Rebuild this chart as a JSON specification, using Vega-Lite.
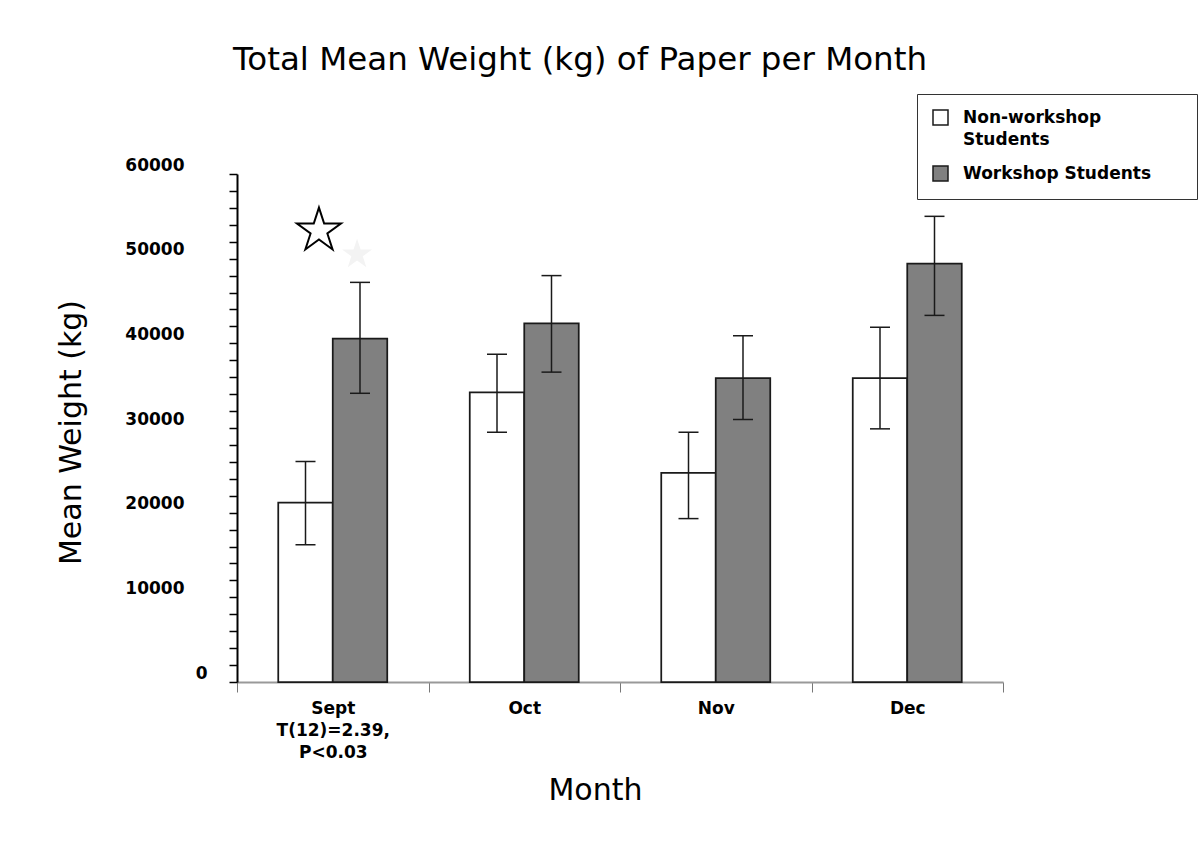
{
  "$schema": "https://vega.github.io/schema/vega-lite/v6.json",
  "autosize": "none",
  "width": 766,
  "height": 508,
  "padding": {"left": 237, "top": 174, "right": 200, "bottom": 166},
  "background": "white",
  "config": {
    "view": {"stroke": null},
    "font": "DejaVu Sans",
    "axisX": {
      "titleFont": "DejaVu Sans",
      "titleFontSize": 30,
      "titleFontWeight": "normal",
      "titleColor": "#000000",
      "titleX": 358,
      "titleY": 117,
      "titleBaseline": "alphabetic",
      "labelAngle": 0,
      "labelFont": "DejaVu Sans",
      "labelFontSize": 17,
      "labelFontWeight": "bold",
      "labelColor": "#000000",
      "labelPadding": 8,
      "labelLineHeight": 22,
      "tickBand": "extent",
      "tickSize": 10,
      "tickColor": "#777777",
      "tickWidth": 1,
      "domainColor": "#999999",
      "domainWidth": 2,
      "grid": false
    },
    "axisY": {
      "titleFont": "DejaVu Sans",
      "titleFontSize": 30,
      "titleFontWeight": "normal",
      "titleColor": "#000000",
      "titleX": -157,
      "titleY": 258,
      "titleAngle": -90,
      "titleBaseline": "alphabetic",
      "labelOverlap": false,
      "labelFont": "DejaVu Sans",
      "labelFontSize": 17,
      "labelFontWeight": "bold",
      "labelColor": "#000000",
      "labelOffset": -9,
      "tickSize": 8,
      "tickWidth": 1.5,
      "tickColor": "#000000",
      "domainColor": "#000000",
      "domainWidth": 2,
      "grid": false
    }
  },
  "title": {
    "text": "Total Mean Weight (kg) of Paper per Month",
    "anchor": "start",
    "frame": "group",
    "font": "DejaVu Sans",
    "fontSize": 32.5,
    "fontWeight": "normal",
    "color": "#000000",
    "baseline": "alphabetic",
    "dx": -4,
    "offset": -9
  },
  "datasets": {
    "bars": [
      {"month": "Sept", "series": "Non-workshop Students", "mean": 21200, "lo": 16200, "hi": 26050},
      {"month": "Sept", "series": "Workshop Students", "mean": 40550, "lo": 34100, "hi": 47200},
      {"month": "Oct", "series": "Non-workshop Students", "mean": 34200, "lo": 29500, "hi": 38700},
      {"month": "Oct", "series": "Workshop Students", "mean": 42350, "lo": 36600, "hi": 48000},
      {"month": "Nov", "series": "Non-workshop Students", "mean": 24700, "lo": 19300, "hi": 29500},
      {"month": "Nov", "series": "Workshop Students", "mean": 35900, "lo": 31000, "hi": 40900},
      {"month": "Dec", "series": "Non-workshop Students", "mean": 35900, "lo": 29900, "hi": 41900},
      {"month": "Dec", "series": "Workshop Students", "mean": 49400, "lo": 43300, "hi": 55000}
    ],
    "stars": [
      {"month": "Sept", "value": 53300, "kind": "outline"},
      {"month": "Sept", "value": 50500, "kind": "faint"}
    ]
  },
  "layer": [
    {
      "data": {"name": "bars"},
      "mark": {"type": "bar", "stroke": "#1a1a1a", "strokeWidth": 1.75},
      "encoding": {
        "x": {
          "field": "month", "type": "nominal",
          "scale": {"domain": ["Sept", "Oct", "Nov", "Dec"], "paddingInner": 0, "paddingOuter": 0},
          "axis": {"title": "Month", "labelExpr": "datum.value === 'Sept' ? ['Sept', 'T(12)=2.39,', 'P<0.03'] : datum.label"}
        },
        "xOffset": {
          "field": "series", "type": "nominal",
          "scale": {"domain": ["Non-workshop Students", "Workshop Students"], "paddingInner": 0, "paddingOuter": 0.757}
        },
        "y": {
          "field": "mean", "type": "quantitative",
          "scale": {"domain": [0, 60000], "nice": false},
          "axis": {
            "title": "Mean Weight (kg)",
            "values": [0, 2000, 4000, 6000, 8000, 10000, 12000, 14000, 16000, 18000, 20000, 22000, 24000, 26000, 28000, 30000, 32000, 34000, 36000, 38000, 40000, 42000, 44000, 46000, 48000, 50000, 52000, 54000, 56000, 58000, 60000],
            "format": "d",
            "labelExpr": "datum.value % 10000 === 0 ? datum.label : ''",
            "labelPadding": {"condition": {"test": "datum.value === 0", "value": 22}, "value": 45}
          }
        },
        "fill": {
          "field": "series", "type": "nominal",
          "scale": {"domain": ["Non-workshop Students", "Workshop Students"], "range": ["#ffffff", "#808080"]},
          "legend": {
            "orient": "none",
            "legendX": 680,
            "legendY": -80,
            "title": "\u00a0",
            "titleOrient": "right",
            "titlePadding": 31,
            "titleFontSize": 17,
            "padding": 15,
            "strokeColor": "#333333",
            "fillColor": "#ffffff",
            "symbolType": "square",
            "symbolSize": 225,
            "symbolStrokeColor": "#1a1a1a",
            "symbolStrokeWidth": 1.5,
            "labelFont": "DejaVu Sans",
            "labelFontSize": 17,
            "labelFontWeight": "bold",
            "labelColor": "#000000",
            "labelLimit": 400,
            "labelOffset": 14,
            "rowPadding": 15,
            "labelExpr": "datum.label === 'Non-workshop Students' ? ['Non-workshop', 'Students'] : datum.label",
            "encode": {"labels": {"update": {"lineHeight": {"value": 22}}}}
          }
        }
      }
    },
    {
      "data": {"name": "bars"},
      "mark": {"type": "rule", "color": "#1a1a1a", "strokeWidth": 1.5},
      "encoding": {
        "x": {
          "field": "month", "type": "nominal",
          "axis": {"title": "Month", "labelExpr": "datum.value === 'Sept' ? ['Sept', 'T(12)=2.39,', 'P<0.03'] : datum.label"}
        },
        "xOffset": {"field": "series", "type": "nominal"},
        "y": {
          "field": "lo", "type": "quantitative",
          "axis": {
            "title": "Mean Weight (kg)",
            "values": [0, 2000, 4000, 6000, 8000, 10000, 12000, 14000, 16000, 18000, 20000, 22000, 24000, 26000, 28000, 30000, 32000, 34000, 36000, 38000, 40000, 42000, 44000, 46000, 48000, 50000, 52000, 54000, 56000, 58000, 60000],
            "format": "d",
            "labelExpr": "datum.value % 10000 === 0 ? datum.label : ''",
            "labelPadding": {"condition": {"test": "datum.value === 0", "value": 22}, "value": 45}
          }
        },
        "y2": {"field": "hi"}
      }
    },
    {
      "data": {"name": "bars"},
      "mark": {"type": "tick", "orient": "horizontal", "color": "#1a1a1a", "size": 20, "thickness": 1.5, "opacity": 1},
      "encoding": {
        "x": {
          "field": "month", "type": "nominal",
          "axis": {"title": "Month", "labelExpr": "datum.value === 'Sept' ? ['Sept', 'T(12)=2.39,', 'P<0.03'] : datum.label"}
        },
        "xOffset": {"field": "series", "type": "nominal"},
        "y": {
          "field": "lo", "type": "quantitative",
          "axis": {
            "title": "Mean Weight (kg)",
            "values": [0, 2000, 4000, 6000, 8000, 10000, 12000, 14000, 16000, 18000, 20000, 22000, 24000, 26000, 28000, 30000, 32000, 34000, 36000, 38000, 40000, 42000, 44000, 46000, 48000, 50000, 52000, 54000, 56000, 58000, 60000],
            "format": "d",
            "labelExpr": "datum.value % 10000 === 0 ? datum.label : ''",
            "labelPadding": {"condition": {"test": "datum.value === 0", "value": 22}, "value": 45}
          }
        }
      }
    },
    {
      "data": {"name": "bars"},
      "mark": {"type": "tick", "orient": "horizontal", "color": "#1a1a1a", "size": 20, "thickness": 1.5, "opacity": 1},
      "encoding": {
        "x": {
          "field": "month", "type": "nominal",
          "axis": {"title": "Month", "labelExpr": "datum.value === 'Sept' ? ['Sept', 'T(12)=2.39,', 'P<0.03'] : datum.label"}
        },
        "xOffset": {"field": "series", "type": "nominal"},
        "y": {
          "field": "hi", "type": "quantitative",
          "axis": {
            "title": "Mean Weight (kg)",
            "values": [0, 2000, 4000, 6000, 8000, 10000, 12000, 14000, 16000, 18000, 20000, 22000, 24000, 26000, 28000, 30000, 32000, 34000, 36000, 38000, 40000, 42000, 44000, 46000, 48000, 50000, 52000, 54000, 56000, 58000, 60000],
            "format": "d",
            "labelExpr": "datum.value % 10000 === 0 ? datum.label : ''",
            "labelPadding": {"condition": {"test": "datum.value === 0", "value": 22}, "value": 45}
          }
        }
      }
    },
    {
      "data": {"name": "stars"},
      "transform": [{"filter": "datum.kind === 'outline'"}],
      "mark": {
        "type": "point",
        "shape": "M0,-1L0.2245,-0.309L0.951,-0.309L0.363,0.118L0.588,0.809L0,0.382L-0.588,0.809L-0.363,0.118L-0.951,-0.309L-0.2245,-0.309Z",
        "size": 2140,
        "filled": true,
        "fill": "#ffffff",
        "stroke": "#000000",
        "strokeWidth": 2,
        "opacity": 1
      },
      "encoding": {
        "x": {
          "field": "month", "type": "nominal", "bandPosition": 0.428,
          "axis": {"title": "Month", "labelExpr": "datum.value === 'Sept' ? ['Sept', 'T(12)=2.39,', 'P<0.03'] : datum.label"}
        },
        "y": {
          "field": "value", "type": "quantitative",
          "axis": {
            "title": "Mean Weight (kg)",
            "values": [0, 2000, 4000, 6000, 8000, 10000, 12000, 14000, 16000, 18000, 20000, 22000, 24000, 26000, 28000, 30000, 32000, 34000, 36000, 38000, 40000, 42000, 44000, 46000, 48000, 50000, 52000, 54000, 56000, 58000, 60000],
            "format": "d",
            "labelExpr": "datum.value % 10000 === 0 ? datum.label : ''",
            "labelPadding": {"condition": {"test": "datum.value === 0", "value": 22}, "value": 45}
          }
        }
      }
    },
    {
      "data": {"name": "stars"},
      "transform": [{"filter": "datum.kind === 'faint'"}],
      "mark": {
        "type": "point",
        "shape": "M0,-1L0.2245,-0.309L0.951,-0.309L0.363,0.118L0.588,0.809L0,0.382L-0.588,0.809L-0.363,0.118L-0.951,-0.309L-0.2245,-0.309Z",
        "size": 995,
        "filled": true,
        "fill": "#f3f3f3",
        "strokeWidth": 0,
        "opacity": 1
      },
      "encoding": {
        "x": {
          "field": "month", "type": "nominal", "bandPosition": 0.627,
          "axis": {"title": "Month", "labelExpr": "datum.value === 'Sept' ? ['Sept', 'T(12)=2.39,', 'P<0.03'] : datum.label"}
        },
        "y": {
          "field": "value", "type": "quantitative",
          "axis": {
            "title": "Mean Weight (kg)",
            "values": [0, 2000, 4000, 6000, 8000, 10000, 12000, 14000, 16000, 18000, 20000, 22000, 24000, 26000, 28000, 30000, 32000, 34000, 36000, 38000, 40000, 42000, 44000, 46000, 48000, 50000, 52000, 54000, 56000, 58000, 60000],
            "format": "d",
            "labelExpr": "datum.value % 10000 === 0 ? datum.label : ''",
            "labelPadding": {"condition": {"test": "datum.value === 0", "value": 22}, "value": 45}
          }
        }
      }
    }
  ]
}
